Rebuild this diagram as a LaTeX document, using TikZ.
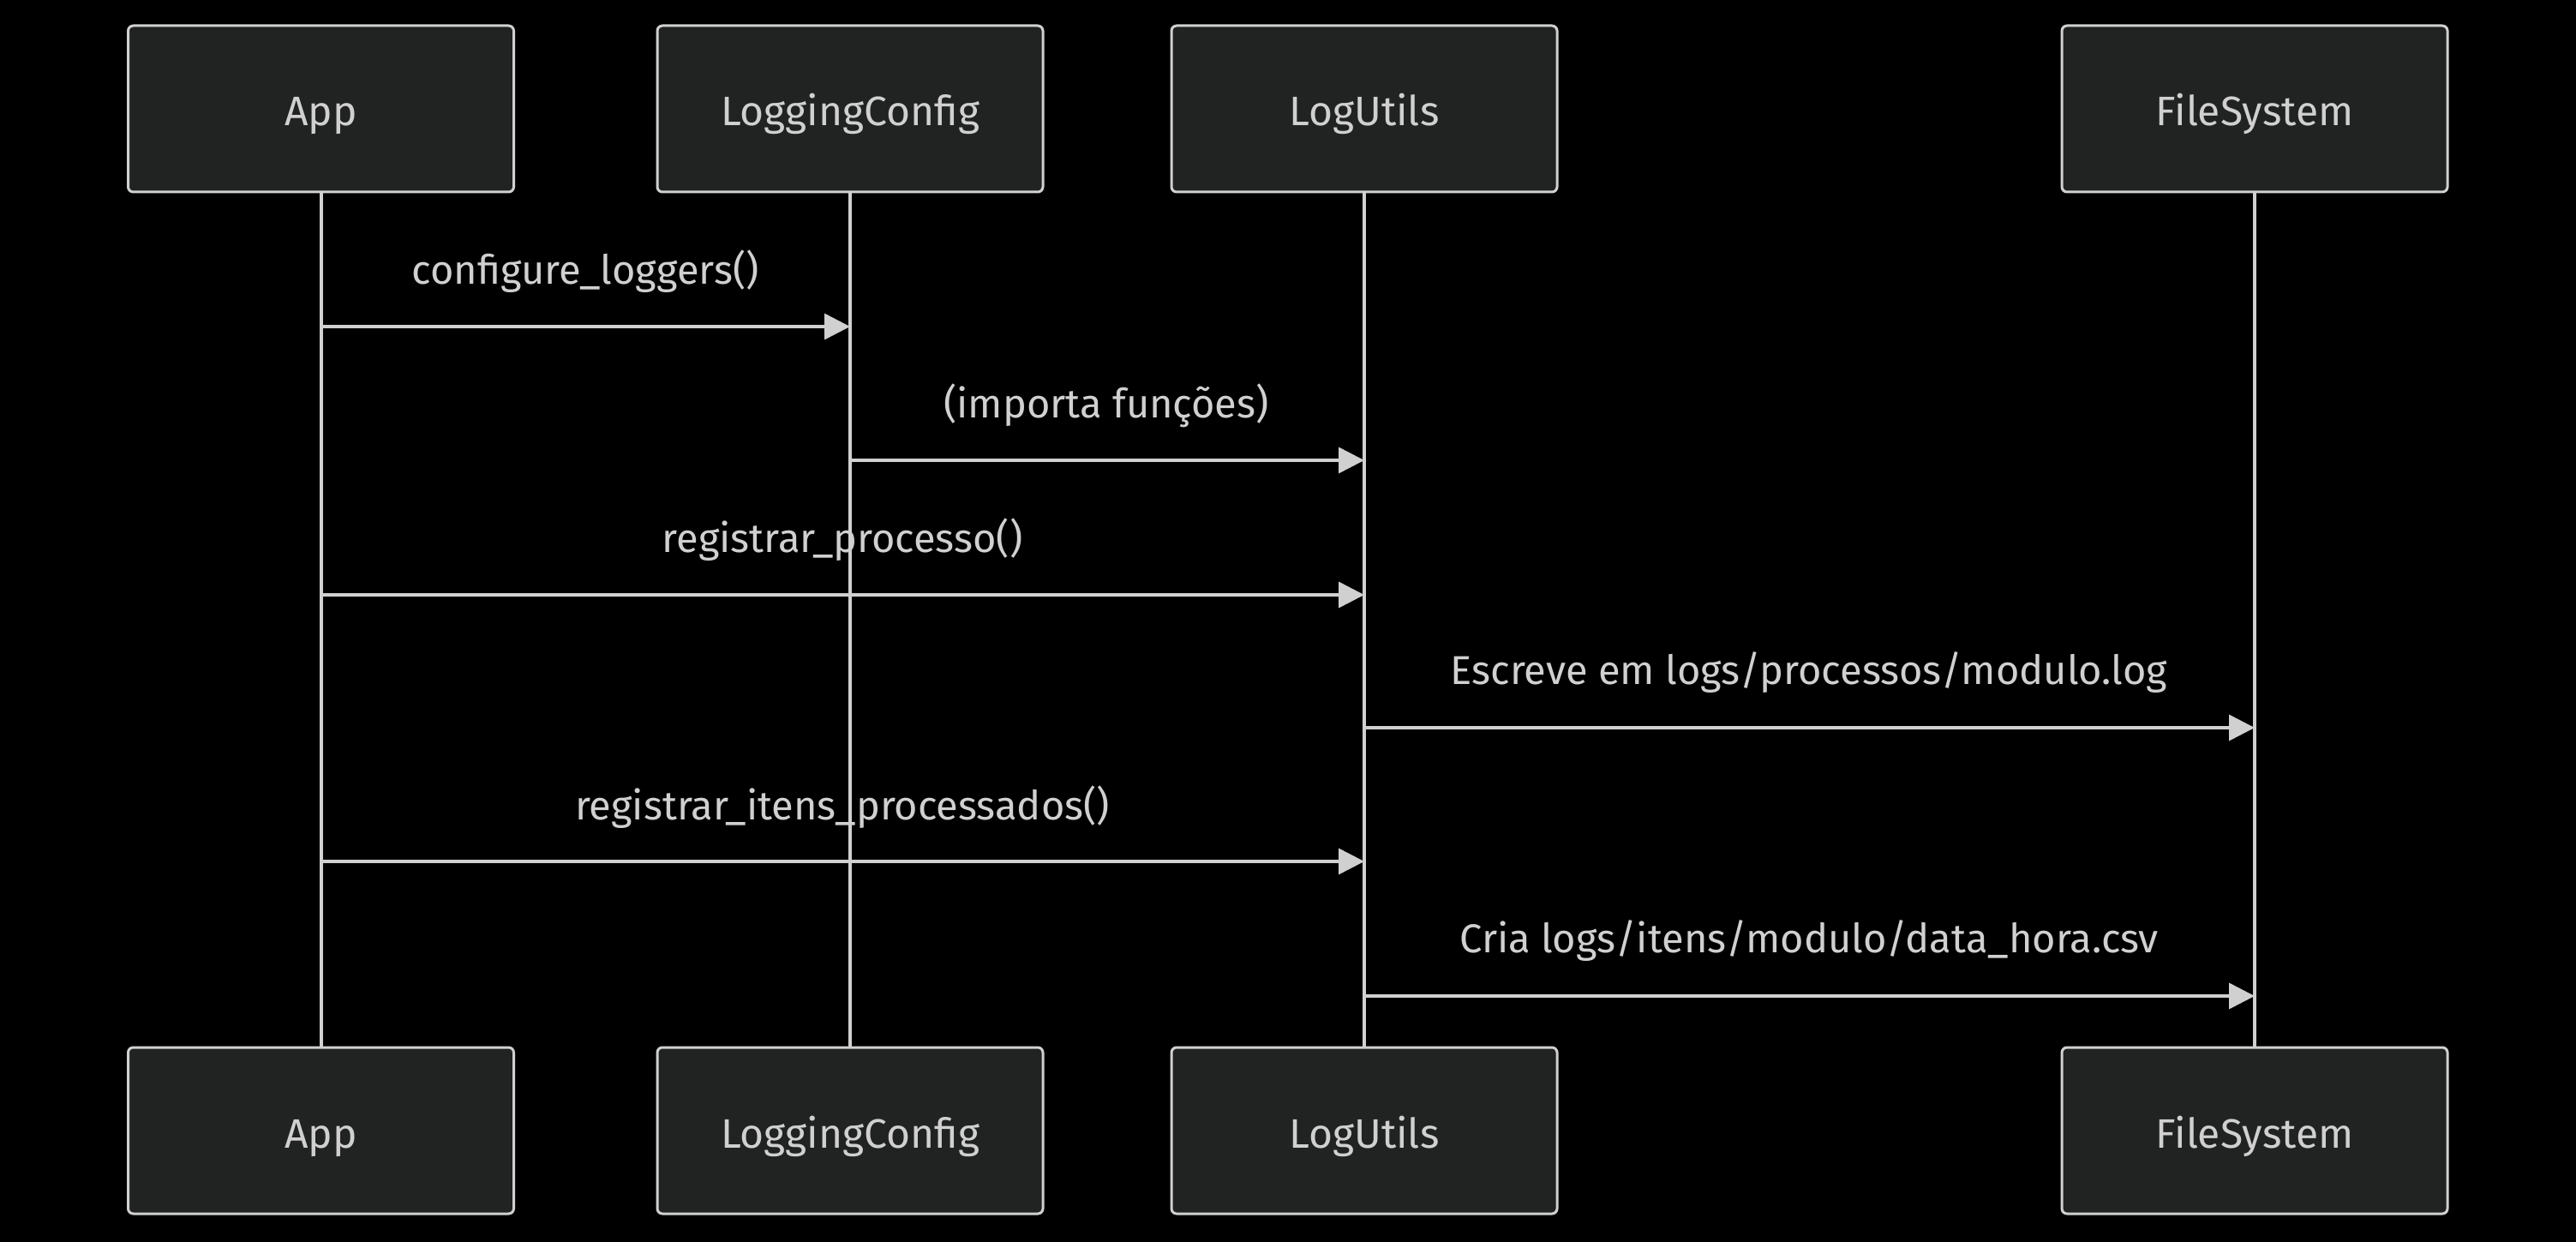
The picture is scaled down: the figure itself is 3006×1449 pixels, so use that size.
\documentclass[tikz,border=0pt]{standalone}
\usepackage{fontspec}
\setmainfont{Fira Sans}
\usetikzlibrary{arrows.meta}
\definecolor{bg}{HTML}{000000}
\definecolor{boxfill}{HTML}{212222}
\definecolor{fg}{HTML}{D0D0D0}
\tikzset{
  actor/.style={draw=fg, fill=boxfill, line width=1.5pt, rounded corners=3pt,
    minimum width=225pt, minimum height=97pt, text=fg, inner sep=0pt,
    text height=20pt, text depth=0pt,
    font=\fontsize{24}{28}\selectfont},
  life/.style={draw=fg, line width=2pt},
  msg/.style={draw=fg, line width=1.8pt, -{Triangle[length=15pt,width=15pt]}},
  lbl/.style={text=fg, font=\fontsize{23.5}{28}\selectfont, inner sep=0pt}
}
\begin{document}
\begin{tikzpicture}[x=0.5pt,y=-0.5pt]
\fill[bg] (0,0) rectangle (3006,1449);
\useasboundingbox (0,0) rectangle (3006,1449);
\node[actor] (app) at (374.5,127) {App};
\node[actor] (lc) at (992,127) {LoggingConfig};
\node[actor] (lu) at (1592,127) {LogUtils};
\node[actor] (fs) at (2631,127) {FileSystem};
\node[actor] (appb) at (374.5,1319) {App};
\node[actor] (lcb) at (992,1319) {LoggingConfig};
\node[actor] (lub) at (1592,1319) {LogUtils};
\node[actor] (fsb) at (2631,1319) {FileSystem};
\draw[life] (app.south) -- (appb.north);
\draw[life] (lc.south) -- (lcb.north);
\draw[life] (lu.south) -- (lub.north);
\draw[life] (fs.south) -- (fsb.north);
\draw[msg] (app.south |- 0,381) -- (lc.south |- 0,381);
\node[lbl] (l1) at (683,317) {configure\_loggers()};
\draw[msg] (lc.south |- 0,537) -- (lu.south |- 0,537);
\node[lbl] (l2) at (1291,473) {(importa funções)};
\draw[msg] (app.south |- 0,694) -- (lu.south |- 0,694);
\node[lbl] (l3) at (983,630) {registrar\_processo()};
\draw[msg] (lu.south |- 0,849) -- (fs.south |- 0,849);
\node[lbl] (l4) at (2111,785) {Escreve em logs/processos/modulo.log};
\draw[msg] (app.south |- 0,1005) -- (lu.south |- 0,1005);
\node[lbl] (l5) at (983,942) {registrar\_itens\_processados()};
\draw[msg] (lu.south |- 0,1162) -- (fs.south |- 0,1162);
\node[lbl] (l6) at (2111,1098) {Cria logs/itens/modulo/data\_hora.csv};
\end{tikzpicture}
\end{document}
